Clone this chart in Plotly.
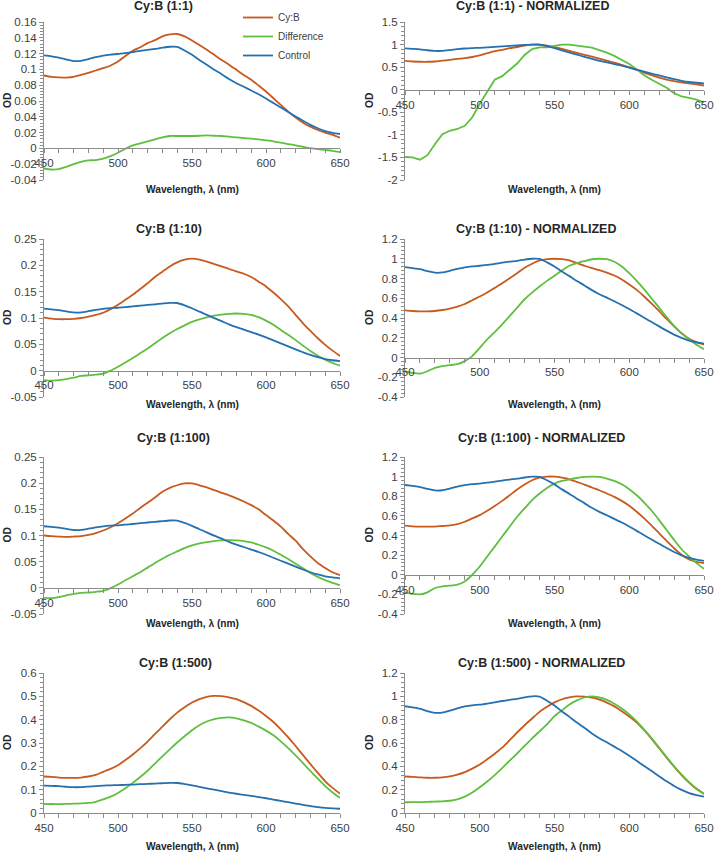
import plotly.graph_objects as go

# ---------------- data ----------------
WAVELENGTH = list(range(450, 651, 5))

CONTROL_OD = [.1177, .1165, .1150, .1125, .1105, .1108, .1130, .1155, .1175, .1188, .1195, .1207, .1220, .1235,
              .1248, .1260, .1275, .1287, .1285, .1240, .1185, .1120, .1060, .0997, .0940, .0878, .0825, .0780,
              .0732, .0685, .0632, .0575, .0518, .0462, .0405, .0350, .0298, .0255, .0220, .0198, .0182]
CONTROL_NORM = [.915, .905, .894, .874, .859, .861, .878, .897, .913, .923, .929, .938, .948, .960, .970, .979,
                .991, 1.0, .998, .963, .921, .870, .824, .775, .730, .682, .641, .606, .569, .532, .491, .447,
                .402, .359, .315, .272, .232, .198, .171, .154, .141]

CYB_1_1 = [.0923, .0905, .0898, .0897, .0905, .0930, .0955, .0986, .1015, .1050, .1100, .1170, .1236, .1280,
           .1333, .1370, .1418, .1443, .1448, .1418, .1367, .1310, .1250, .1185, .1120, .1060, .0995, .0930,
           .0870, .0796, .0720, .0635, .0550, .0466, .0390, .0326, .0275, .0233, .0200, .0170, .0135]
DIFF_1_1 = [-.0254, -.0267, -.0262, -.0233, -.0200, -.0170, -.0152, -.0148, -.0130, -.0097, -.0055, -.0004,
            .0038, .0063, .0089, .0114, .0140, .0157, .0157, .0157, .0157, .0160, .0165, .0160, .0157, .0148,
            .0140, .0131, .0123, .0114, .0102, .0089, .0072, .0055, .0038, .0021, .0004, -.0008, -.0020, -.0030,
            -.0047]
CYB_1_1_NORM = [.637, .625, .620, .619, .625, .642, .660, .681, .701, .725, .760, .808, .854, .884, .921, .946,
                .979, .997, 1.0, .979, .944, .905, .863, .818, .773, .732, .687, .642, .601, .550, .497, .439,
                .380, .322, .269, .225, .190, .161, .138, .117, .093]
DIFF_1_1_NORM = [-1.49, -1.50, -1.55, -1.45, -1.21, -0.985, -0.91, -0.87, -0.80, -0.61, -0.31, -0.05, 0.22,
                 0.30, 0.43, 0.58, 0.77, 0.90, 0.94, 0.94, 0.97, 1.0, 1.0, 0.97, 0.955, 0.93, 0.88, 0.82, 0.75,
                 0.66, 0.57, 0.45, 0.32, 0.22, 0.13, 0.045, -0.075, -0.15, -0.18, -0.22, -0.28]

CYB_1_10 = [.1009, .0990, .0977, .0977, .0983, .1000, .1028, .1060, .1100, .1168, .1250, .1345, .1440, .1550,
            .1660, .1780, .1880, .1980, .2056, .2107, .2126, .2107, .2070, .2024, .1980, .1930, .1885, .1840,
            .1780, .1690, .1600, .1485, .1360, .1220, .1060, .0900, .0755, .0615, .0490, .0380, .0280]
DIFF_1_10 = [-.0178, -.0190, -.0178, -.0160, -.0133, -.0100, -.0089, -.0076, -.0057, .0000, .0075, .0155,
             .0240, .0330, .0420, .0520, .0620, .0710, .0790, .0860, .0925, .0975, .1012, .1045, .1066, .1080,
             .1085, .1080, .1060, .1015, .0950, .0870, .0774, .0680, .0580, .0476, .0374, .0285, .0210, .0145,
             .0095]
CYB_1_10_NORM = [.478, .471, .468, .468, .471, .481, .495, .515, .542, .580, .617, .658, .705, .752, .803, .854,
                 .908, .949, .983, .997, 1.0, .997, .983, .956, .929, .905, .885, .860, .830, .790, .740, .685,
                 .618, .545, .470, .390, .315, .245, .190, .155, .130]
DIFF_1_10_NORM = [-.139, -.156, -.163, -.139, -.105, -.088, -.078, -.068, -.037, .014, .098, .183, .258, .336,
                  .420, .505, .590, .657, .719, .776, .827, .881, .929, .956, .976, .995, 1.0, .995, .969, .922,
                  .854, .776, .690, .597, .505, .410, .320, .245, .185, .130, .085]

CYB_1_100 = [.1000, .0987, .0980, .0975, .0980, .0987, .1010, .1044, .1095, .1158, .1234, .1323, .1420, .1525,
             .1627, .1728, .1835, .1910, .1960, .1994, .1994, .1960, .1918, .1867, .1816, .1766, .1710, .1650,
             .1580, .1500, .1390, .1285, .1170, .1030, .0900, .0740, .0600, .0475, .0380, .0297, .0240]
DIFF_1_100 = [-.0190, -.0196, -.0177, -.0146, -.0114, -.0095, -.0089, -.0076, -.0057, -.0006, .0063, .0146,
              .0222, .0297, .0386, .0475, .0557, .0633, .0696, .0760, .0810, .0848, .0873, .0892, .0905, .0911,
              .0905, .0892, .0867, .0823, .0772, .0709, .0633, .0550, .0462, .0373, .0285, .0209, .0146, .0095,
              .0050]
CYB_1_100_NORM = [.500, .493, .490, .490, .490, .497, .503, .517, .540, .574, .608, .652, .700, .753, .810, .868,
                  .919, .963, .990, 1.0, 1.0, .990, .973, .946, .919, .889, .861, .828, .794, .753, .703, .642,
                  .574, .500, .422, .345, .270, .203, .155, .130, .118]
DIFF_1_100_NORM = [-.179, -.196, -.200, -.179, -.135, -.118, -.111, -.100, -.068, .000, .084, .186, .287, .389,
                   .490, .591, .676, .760, .828, .885, .929, .956, .973, .986, .997, 1.0, .997, .980, .956, .922,
                   .872, .810, .736, .652, .557, .456, .355, .260, .186, .118, .060]

CYB_1_500 = [.1564, .1550, .1520, .1506, .1506, .1520, .1564, .1636, .1765, .1890, .2050, .2267, .2510, .2770,
             .3056, .3386, .3700, .4017, .4300, .4530, .4735, .4880, .4980, .5020, .5007, .4960, .4880, .4750,
             .4590, .4390, .4160, .3900, .3587, .3240, .2870, .2480, .2095, .1720, .1360, .1076, .0830]
DIFF_1_500 = [.038, .0386, .038, .039, .040, .041, .043, .048, .058, .070, .086, .106, .129, .154, .181, .212,
              .243, .273, .302, .329, .355, .376, .392, .402, .408, .410, .406, .397, .386, .370, .353, .333, .307,
              .278, .247, .214, .180, .147, .115, .088, .065]
CYB_1_500_NORM = [.313, .310, .305, .302, .302, .305, .313, .328, .350, .380, .415, .460, .508, .560, .625, .690,
                  .752, .810, .867, .910, .948, .975, .992, 1.0, .997, .988, .971, .946, .914, .873, .827, .775,
                  .710, .635, .555, .475, .397, .325, .260, .205, .164]
DIFF_1_500_NORM = [.092, .094, .093, .095, .098, .100, .105, .117, .140, .175, .220, .270, .325, .385, .448, .510,
                   .575, .640, .700, .760, .830, .880, .930, .965, .990, 1.0, .990, .970, .937, .895, .845, .785,
                   .715, .640, .560, .480, .400, .330, .265, .210, .165]

SERIES_NAMES = ["Cy:B", "Difference", "Control"]
X_TICKS = [450, 500, 550, 600, 650]

# (row, col, title, ymin, ymax, dtick, cyb, diff, control, title centre px)
PANELS = [
    (0, 0, "Cy:B (1:1)", -0.04, 0.16, 0.02, CYB_1_1, DIFF_1_1, CONTROL_OD, 163),
    (0, 1, "Cy:B (1:1) - NORMALIZED", -2.0, 1.5, 0.5, CYB_1_1_NORM, DIFF_1_1_NORM, CONTROL_NORM, 532),
    (1, 0, "Cy:B (1:10)", -0.05, 0.25, 0.05, CYB_1_10, DIFF_1_10, CONTROL_OD, 169),
    (1, 1, "Cy:B (1:10) - NORMALIZED", -0.4, 1.2, 0.2, CYB_1_10_NORM, DIFF_1_10_NORM, CONTROL_NORM, 536),
    (2, 0, "Cy:B (1:100)", -0.05, 0.25, 0.05, CYB_1_100, DIFF_1_100, CONTROL_OD, 173),
    (2, 1, "Cy:B (1:100) - NORMALIZED", -0.4, 1.2, 0.2, CYB_1_100_NORM, DIFF_1_100_NORM, CONTROL_NORM, 541),
    (3, 0, "Cy:B (1:500)", 0.0, 0.6, 0.1, CYB_1_500, DIFF_1_500, CONTROL_OD, 175),
    (3, 1, "Cy:B (1:500) - NORMALIZED", 0.0, 1.2, 0.2, CYB_1_500_NORM, DIFF_1_500_NORM, CONTROL_NORM, 541),
]

# ---------------- style / layout ----------------
W, H = 716, 853
FONT = "Liberation Sans, Arial, sans-serif"
COLORS = ["#C85A1E", "#5FBF3F", "#2470B0"]
AXC = "#8C8C8C"
TXT = "#404040"
ROWS_PX = [(22, 180), (239, 397), (457, 614), (673, 813)]
COLS_PX = [(44, 340), (405, 704)]
TITLE_Y = [6, 229, 438, 663]
XTITLE_Y = [189, 405, 623, 846]


def fy(py):
    return 1 - py / H


def fx(px):
    return px / W


def fmt(v):
    if abs(v) < 1e-9:
        v = 0.0
    return f"{v:g}"


fig = go.Figure()
layout = dict(
    width=W, height=H, margin=dict(l=0, r=0, t=0, b=0, pad=0, autoexpand=False),
    paper_bgcolor="white", plot_bgcolor="white",
    font=dict(family=FONT, size=11.5, color=TXT),
    showlegend=True,
    legend=dict(x=fx(238), y=fy(3), xanchor="left", yanchor="top",
                font=dict(size=10, color=TXT), bgcolor="rgba(0,0,0,0)",
                itemwidth=30, tracegroupgap=0),
)
annotations = []

for i, (row, col, title, ymin, ymax, dtick, cyb, diff, ctrl, tcx) in enumerate(PANELS, start=1):
    xs = "x" if i == 1 else f"x{i}"
    ys = "y" if i == 1 else f"y{i}"
    for k, (name, vals) in enumerate(zip(SERIES_NAMES, [cyb, diff, ctrl])):
        noisy = (i == 2 and k == 1)
        fig.add_trace(go.Scatter(
            x=WAVELENGTH, y=vals, mode="lines", name=name,
            line=dict(color=COLORS[k], width=1.8,
                      shape="linear" if noisy else "spline",
                      smoothing=None if noisy else 0.6),
            xaxis=xs, yaxis=ys, showlegend=(i == 1), legendrank=k + 1,
        ))

    top, bot = ROWS_PX[row]
    left, right = COLS_PX[col]
    ydom = [fy(bot), fy(top)]
    xdom = [fx(left), fx(right)]

    n = int(round((ymax - ymin) / dtick))
    yvals = [round(ymin + j * dtick, 6) for j in range(n + 1)]

    xaxis = dict(
        domain=xdom, range=[450, 650], tickmode="array", tickvals=X_TICKS,
        ticktext=[str(t) for t in X_TICKS], ticklabeloverflow="allow",
        showline=True, linecolor=AXC, linewidth=1, ticks="outside", ticklen=4,
        tickcolor=AXC, showgrid=False, zeroline=False,
        tickfont=dict(size=11.5, color=TXT),
        minor=dict(tickmode="linear", tick0=450, dtick=10, ticks="outside", ticklen=4,
                   tickcolor=AXC, showgrid=False),
    )
    if ymin < 0:
        frac = (0 - ymin) / (ymax - ymin)
        xaxis.update(anchor="free", position=ydom[0] + frac * (ydom[1] - ydom[0]))
    else:
        xaxis.update(anchor=ys)

    yaxis = dict(
        domain=ydom, range=[ymin, ymax], anchor=xs,
        tickmode="array", tickvals=yvals, ticktext=[fmt(v) for v in yvals],
        showline=True, linecolor=AXC, linewidth=1, ticks="outside", ticklen=4,
        tickcolor=AXC, showgrid=False, zeroline=False,
        tickfont=dict(size=11.5, color=TXT),
        minor=dict(tickmode="linear", tick0=ymin, dtick=dtick / 5, ticks="outside", ticklen=3,
                   tickcolor=AXC, showgrid=False),
    )
    layout["xaxis" if i == 1 else f"xaxis{i}"] = xaxis
    layout["yaxis" if i == 1 else f"yaxis{i}"] = yaxis

    # panel title
    annotations.append(dict(text=f"<b>{title}</b>", x=fx(tcx), y=fy(TITLE_Y[row]), xref="paper", yref="paper",
                            xanchor="center", yanchor="middle", showarrow=False,
                            font=dict(size=12.5, color="#262626", family=FONT)))
    # axis titles
    annotations.append(dict(text="<b>Wavelength, λ (nm)</b>", x=fx((left + right) / 2), y=fy(XTITLE_Y[row]),
                            xref="paper", yref="paper", xanchor="center", yanchor="middle", showarrow=False,
                            font=dict(size=10.2, color="#262626", family=FONT)))
    annotations.append(dict(text="<b>OD</b>", x=fx(7 if col == 0 else 369), y=fy((top + bot) / 2),
                            xref="paper", yref="paper", xanchor="center", yanchor="middle", showarrow=False,
                            textangle=-90, font=dict(size=10.2, color="#262626", family=FONT)))

layout["annotations"] = annotations
fig.update_layout(**layout)
fig.write_html("out.html", config={"displayModeBar": False},
               post_script="document.body.style.margin='0px'; document.body.style.overflow='hidden';")
